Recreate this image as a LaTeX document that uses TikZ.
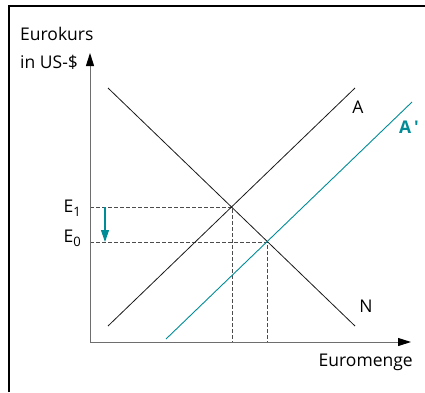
\documentclass[tikz,border=0pt]{standalone}
\usepackage{fontspec}
\setmainfont{Open Sans}
\usetikzlibrary{arrows.meta}
\definecolor{teal1}{RGB}{0,140,150}
\definecolor{axisgrey}{RGB}{110,110,110}
\newcommand{\lblsub}[2]{#1\raisebox{-4pt}{\fontsize{13}{14}\selectfont #2}}
\tikzset{
  frameline/.style={line width=1.2pt, black},
  axisline/.style={line width=1pt, axisgrey, -{Triangle[length=13pt,width=8pt,black]}},
  curve/.style={line width=0.8pt, black!90},
  shifted/.style={line width=0.9pt, teal1},
  guide/.style={line width=0.6pt, black!70, dash pattern=on 3.5pt off 2.5pt},
  lbl/.style={font=\fontsize{17.5}{20}\selectfont, inner sep=0pt},
}
\begin{document}
\begin{tikzpicture}[x=1pt,y=-1pt]
\useasboundingbox (0,0) rectangle (425,392);
% frame (top and left only)
\draw[frameline] (9,392) -- (9,6) -- (425,6);
% coordinates
\coordinate (O) at (90,342);
\coordinate (ytip) at (90,53);
\coordinate (xtip) at (411,342);
\coordinate (Ns) at (108,88);
\coordinate (Ne) at (355,326);
\coordinate (As) at (108,326);
\coordinate (Ae) at (355,88);
\coordinate (Bs) at (166,339);
\coordinate (Be) at (412,102);
\coordinate (E1) at (232,207);
\coordinate (E0) at (267,242);
\coordinate (E1y) at (90,207);
\coordinate (E0y) at (90,242);
\coordinate (E1x) at (232,342);
\coordinate (E0x) at (267,342);
\coordinate (arrS) at (105,207);
\coordinate (arrE) at (105,242);
% guides
\draw[guide] (E1y) -- (E1) -- (E1x);
\draw[guide] (E0y) -- (E0) -- (E0x);
% curves
\draw[curve] (Ns) -- (Ne);
\draw[curve] (As) -- (Ae);
\draw[shifted] (Bs) -- (Be);
% axes
\draw[axisline] (O) -- (ytip);
\draw[axisline] (O) -- (xtip);
% teal arrow
\draw[line width=1.1pt, teal1, -{Triangle[length=12pt,width=8pt]}] (arrS) -- (arrE);
% labels
\node[lbl, anchor=west] (ylab1) at (20,34) {Eurokurs};
\node[lbl, anchor=west] (ylab2) at (20,62) {in US-\$};
\node[lbl, anchor=east] (xlab) at (413,362) {Euromenge};
\node[lbl] (labA) at (358,107) {A};
\node[lbl] (labN) at (366,306) {N};
\node[lbl, teal1, font=\fontsize{17.5}{20}\selectfont\bfseries, anchor=west] (labB) at (399,127) {A\,{\addfontfeatures{Ligatures=TeXOff}'}};
\node[lbl, anchor=base east] (labE1) at (81,212) {\lblsub{E}{1}};
\node[lbl, anchor=base east] (labE0) at (81,242) {\lblsub{E}{0}};
\end{tikzpicture}
\end{document}
